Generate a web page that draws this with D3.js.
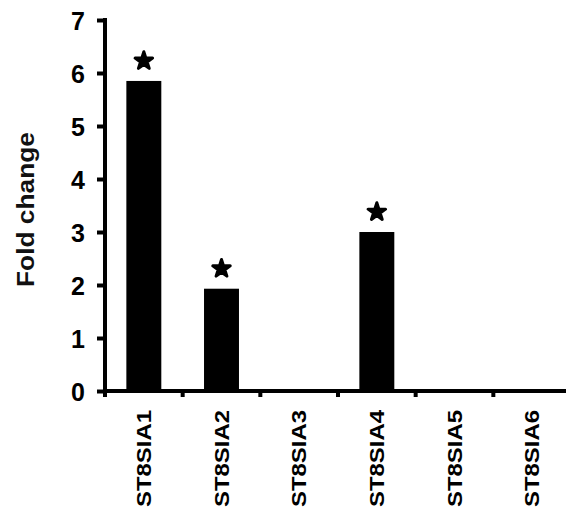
<!DOCTYPE html>
<html>
<head>
<meta charset="utf-8">
<script src="https://cdn.jsdelivr.net/npm/d3@7"></script>
<style>
  html, body { margin: 0; padding: 0; background: #fff; }
  svg { display: block; }
  text { font-family: "Liberation Sans", Arial, sans-serif; }
</style>
</head>
<body>
<script>
// Relative expression of ST8SIA genes
const genes = ["ST8SIA1", "ST8SIA2", "ST8SIA3", "ST8SIA4", "ST8SIA5", "ST8SIA6"];
const foldChange = [5.85, 1.93, 0, 3.0, 0, 0];
const significant = [true, true, false, true, false, false];
const yTicks = [0, 1, 2, 3, 4, 5, 6, 7];

const W = 568, H = 512;
const svg = d3.select("body").append("svg").attr("width", W).attr("height", H);

const x = d3.scaleBand().domain(genes).range([105, 571])
  .paddingInner(0.55).paddingOuter(0.275);
const y = d3.scaleLinear().domain([0, 7]).range([391, 20]);

// bars
svg.append("g").selectAll("rect").data(genes).join("rect")
  .attr("x", d => x(d))
  .attr("width", x.bandwidth())
  .attr("y", (d, i) => y(foldChange[i]))
  .attr("height", (d, i) => y(0) - y(foldChange[i]))
  .attr("fill", "#000");

// significance stars
const star = d3.symbol(d3.symbolStar).size(95);
svg.append("g").selectAll("path")
  .data(genes.filter((d, i) => significant[i]))
  .join("path")
  .attr("d", star)
  .attr("transform", d => `translate(${x(d) + x.bandwidth() / 2},${y(foldChange[genes.indexOf(d)]) - 20})`)
  .attr("fill", "#000")
  .attr("stroke", "#000")
  .attr("stroke-width", 3)
  .attr("stroke-linejoin", "round");

// y axis
const yAxis = svg.append("g").attr("transform", "translate(105,0)")
  .call(d3.axisLeft(y).tickValues(yTicks).tickSize(8).tickPadding(12).tickFormat(d3.format("d")));
yAxis.select(".domain").remove();
yAxis.append("line").attr("x1", 0).attr("x2", 0).attr("y1", y(7) - 2).attr("y2", y(0) + 2)
  .attr("stroke", "#000").attr("stroke-width", 4);
yAxis.selectAll(".tick line").attr("stroke", "#000").attr("stroke-width", 4);
yAxis.selectAll(".tick text")
  .attr("fill", "#000")
  .style("font-size", "25px").style("font-weight", "bold")
  .attr("dy", "0.36em");

// x axis with ticks at category boundaries
const xg = svg.append("g");
xg.append("line").attr("x1", 103).attr("x2", 566).attr("y1", y(0)).attr("y2", y(0))
  .attr("stroke", "#000").attr("stroke-width", 4);
xg.selectAll(".bt").data(genes).join("line")
  .attr("class", "bt")
  .attr("x1", d => x(d) - x.step() * x.paddingOuter())
  .attr("x2", d => x(d) - x.step() * x.paddingOuter())
  .attr("y1", y(0)).attr("y2", y(0) + 6)
  .attr("stroke", "#000").attr("stroke-width", 4);

xg.selectAll(".lbl").data(genes).join("text")
  .attr("class", "lbl")
  .attr("transform", d => `translate(${x(d) + x.bandwidth() / 2 + 7},410) rotate(-90)`)
  .attr("text-anchor", "end")
  .attr("textLength", 97)
  .attr("lengthAdjust", "spacingAndGlyphs")
  .style("font-size", "21px").style("font-weight", "bold")
  .attr("fill", "#000")
  .text(d => d);

// y axis title
svg.append("text")
  .attr("transform", "translate(34,209.5) rotate(-90)")
  .attr("text-anchor", "middle")
  .attr("textLength", 155)
  .attr("lengthAdjust", "spacingAndGlyphs")
  .style("font-size", "24px").style("font-weight", "bold")
  .attr("fill", "#111")
  .text("Fold change");
</script>
</body>
</html>
